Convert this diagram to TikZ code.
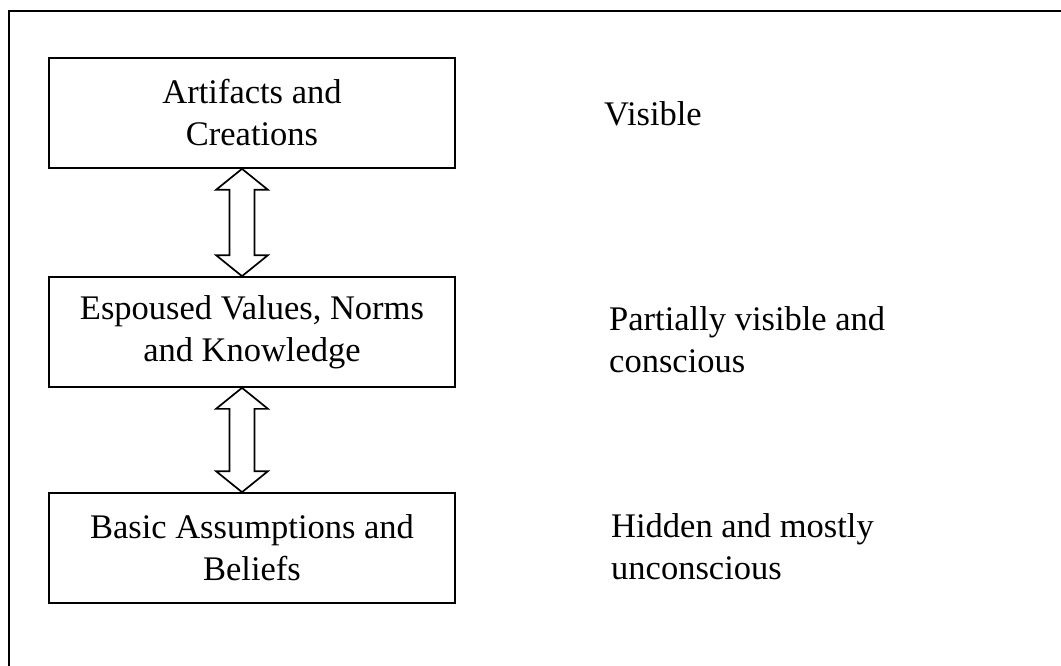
\documentclass[tikz,border=0pt]{standalone}
\usepackage{fontspec}
\setmainfont{Liberation Serif}
\begin{document}
\begin{tikzpicture}[x=1pt,y=-1pt,
  lw/.style={line width=1.7pt},
  layerbox/.style={draw,lw,minimum width=406pt,minimum height=110pt,align=center,inner sep=0pt,
     font=\fontsize{34.5}{42}\selectfont},
  sidelabel/.style={anchor=west,align=left,inner sep=0pt,font=\fontsize{34.5}{42}\selectfont},
  blockarrow/.style={draw,lw,fill=white,line join=miter}
]
\useasboundingbox (0,0) rectangle (1061,666);
% outer frame (only top and left sides visible)
\coordinate (ftr) at (1061,11);
\coordinate (ftl) at (9,11);
\coordinate (fbl) at (9,666);
\draw[lw] (ftr) -- (ftl) -- (fbl);

\node[layerbox] (b1) at (252,113) {Artifacts and\\Creations};
\node[layerbox] (b2) at (252,332) {Espoused Values, Norms\\and Knowledge};
\node[layerbox] (b3) at (252,548) {Basic Assumptions and\\Beliefs};

\node[sidelabel] (l1) at (604,114) {Visible};
\node[sidelabel] (l2) at (609,340) {Partially visible and\\conscious};
\node[sidelabel] (l3) at (611,547) {Hidden and mostly\\unconscious};

\coordinate (ax) at (242,0);
\coordinate (t1) at (b1.south -| ax);
\coordinate (u1) at (b2.north -| ax);
\coordinate (t2) at (b2.south -| ax);
\coordinate (u2) at (b3.north -| ax);

\foreach \t/\u in {t1/u1,t2/u2}{
  \draw[blockarrow] (\t) -- ++(26,21) -- ++(-13.5,0) |- ([shift={(12.5,-21)}]\u)
     -- ++(13.5,0) -- (\u) -- ++(-26,-21) -- ++(13.5,0) |- ([shift={(-12.5,21)}]\t)
     -- ++(-13.5,0) -- cycle;
}
\end{tikzpicture}
\end{document}
